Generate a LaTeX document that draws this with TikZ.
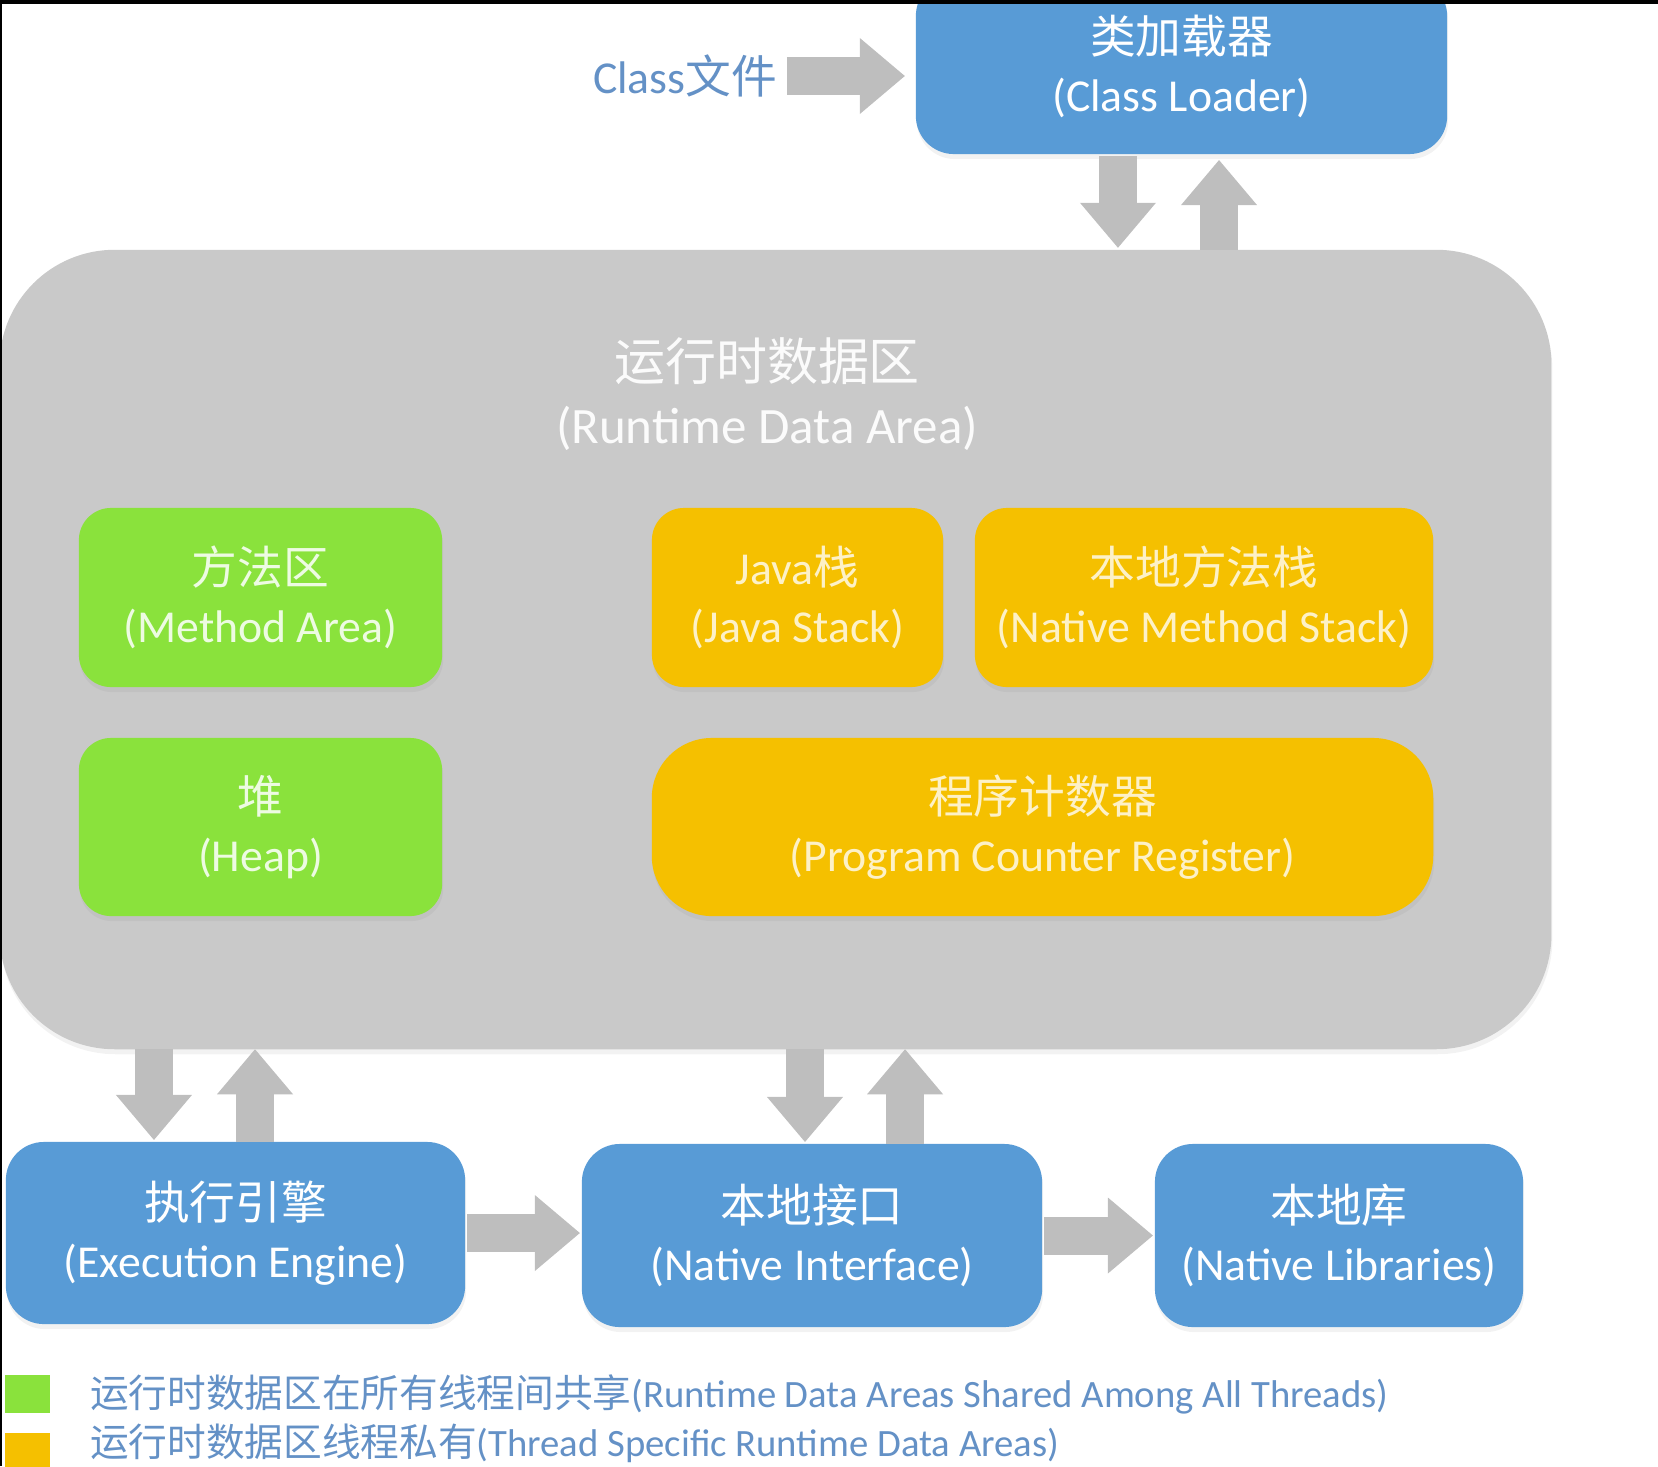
\documentclass[tikz,border=0pt]{standalone}
\usepackage{fontspec}
\setmainfont{Carlito}
\newfontfamily\cjk{Noto Sans CJK SC}
\usetikzlibrary{arrows.meta,positioning,shadows}

\definecolor{jvmblue}{RGB}{88,155,214}
\definecolor{areagray}{RGB}{201,201,201}
\definecolor{arrowgray}{RGB}{190,190,190}
\definecolor{sharedgreen}{RGB}{138,226,60}
\definecolor{privateorange}{RGB}{245,192,0}
\definecolor{captionblue}{RGB}{100,145,198}
\newcommand{\zh}[1]{{\cjk #1}}

\begin{document}
\begin{tikzpicture}[x=0.01cm, y=-0.01cm,
  every node/.style={font=\fontsize{13}{16.5}\selectfont, align=center, outer sep=0pt},
  softshadow/.style={drop shadow={opacity=0.1, shadow xshift=0.01cm, shadow yshift=-0.05cm}},
  jvmbox/.style={fill=jvmblue, text=white, rounded corners=0.38cm, softshadow},
  sharedbox/.style={fill=sharedgreen, text=white!85!sharedgreen, rounded corners=0.32cm, softshadow},
  privatebox/.style={fill=privateorange, text=white!78!privateorange, rounded corners=0.32cm, softshadow},
  fatarrow/.style={draw=arrowgray, line width=0.38cm, -{Triangle[length=0.45cm 0 0, width=0.76cm 0 0, line width=0pt 0 0]}},
  keytext/.style={font=\fontsize{11}{13}\selectfont, text=captionblue, anchor=west, inner sep=0pt}]
\useasboundingbox (0,0) rectangle (1658,1466);
% runtime data area
\node[fill=areagray, rounded corners=1.15cm, minimum width=15.51cm, minimum height=7.99cm, softshadow] (rda) at (775.5,649.5) {};
\node[text=white!92!areagray, font=\fontsize{14.5}{18}\selectfont] (rdatitle) at (767,394) {\zh{运行时数据区}\\(Runtime Data Area)};
\node[sharedbox, minimum width=3.63cm, minimum height=1.79cm] (methodarea) at (260.5,597.5) {\zh{方法区}\\(Method Area)};
\node[sharedbox, minimum width=3.63cm, minimum height=1.78cm] (heap) at (260.5,827) {\zh{堆}\\(Heap)};
\node[privatebox, minimum width=2.91cm, minimum height=1.79cm] (javastack) at (797.5,597.5) {Java\zh{栈}\\(Java Stack)};
\node[privatebox, minimum width=4.58cm, minimum height=1.79cm] (nativestack) at (1204,597.5) {\zh{本地方法栈}\\(Native Method Stack)};
\node[privatebox, rounded corners=0.6cm, minimum width=7.81cm, minimum height=1.78cm] (pcregister) at (1042.5,827) {\zh{程序计数器}\\(Program Counter Register)};
% class loader
\node[jvmbox, minimum width=5.31cm, minimum height=1.76cm] (loader) at (1181.5,66) {\zh{类加载器}\\(Class Loader)};
\node[text=captionblue, inner sep=0pt] (clsfile) at (685,76) {Class\zh{文件}};
\coordinate (loaderdown) at ([xshift=-0.635cm]loader.south);
\coordinate (loaderup) at ([xshift=0.375cm]loader.south);
\draw[fatarrow, shorten <=0.1cm, shorten >=0.11cm] (clsfile.east) -- (clsfile.east -| loader.west);
\draw[fatarrow, shorten <=0.02cm, shorten >=0.02cm] (loaderdown) -- (loaderdown |- rda.north);
\draw[fatarrow, shorten >=0.06cm] (loaderup |- rda.north) -- (loaderup);
% engine and native side
\node[jvmbox, minimum width=4.59cm, minimum height=1.82cm] (engine) at (235.5,1233) {\zh{执行引擎}\\(Execution Engine)};
\node[jvmbox, minimum width=4.60cm, minimum height=1.83cm] (nativeif) at (812,1235.5) {\zh{本地接口}\\(Native Interface)};
\node[jvmbox, minimum width=3.68cm, minimum height=1.83cm] (nativelib) at (1339,1235.5) {\zh{本地库}\\(Native Libraries)};
\coordinate (enginedown) at ([xshift=-0.815cm]engine.north);
\coordinate (engineup) at ([xshift=0.195cm]engine.north);
\coordinate (nativedown) at ([xshift=-0.07cm]nativeif.north);
\coordinate (nativeup) at ([xshift=0.93cm]nativeif.north);
\draw[fatarrow, shorten >=0.02cm] (enginedown |- rda.south) -- (enginedown);
\draw[fatarrow] (engineup) -- (engineup |- rda.south);
\draw[fatarrow, shorten >=0.02cm] (nativedown |- rda.south) -- (nativedown);
\draw[fatarrow] (nativeup) -- (nativeup |- rda.south);
\draw[fatarrow, shorten <=0.02cm, shorten >=0.02cm] (engine.east) -- (engine.east -| nativeif.west);
\draw[fatarrow, shorten <=0.02cm, shorten >=0.02cm] (nativeif.east) -- (nativeif.east -| nativelib.west);
% key
\node[fill=sharedgreen, minimum width=0.45cm, minimum height=0.38cm, inner sep=0pt] (keyshared) at (27.5,1394) {};
\node[keytext] (keysharedtext) at (90,1394) {\zh{运行时数据区在所有线程间共享}(Runtime Data Areas Shared Among All Threads)};
\node[fill=privateorange, minimum width=0.45cm, minimum height=0.47cm, inner sep=0pt] (keyprivate) at (27.5,1456.5) {};
\node[keytext] (keyprivatetext) at (90,1443) {\zh{运行时数据区线程私有}(Thread Specific Runtime Data Areas)};
% screen edge
\fill[black] (0,0) rectangle (1658,4);
\fill[black] (0,0) rectangle (2,1466);
\end{tikzpicture}
\end{document}
